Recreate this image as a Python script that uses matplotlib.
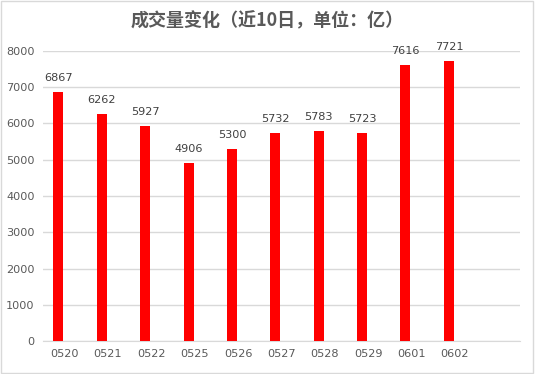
import matplotlib.pyplot as plt
from matplotlib.patches import Rectangle

# Data
dates = ['0520', '0521', '0522', '0525', '0526', '0527', '0528', '0529', '0601', '0602', '']
volume = [6867, 6262, 5927, 4906, 5300, 5732, 5783, 5723, 7616, 7721]
yticks = [0, 1000, 2000, 3000, 4000, 5000, 6000, 7000, 8000]

plt.rcParams['font.family'] = ['Noto Sans CJK SC', 'DejaVu Sans']

fig = plt.figure(figsize=(5.35, 3.74), dpi=100)
ax = fig.add_axes([0.080, 0.088, 0.892, 0.776])

# bars sit left of the category centre (Excel clustered layout)
xs = [i - 0.14 for i in range(len(volume))]
ax.bar(xs, volume, width=0.23, color='#ff0000', zorder=3)
for x, v in zip(xs, volume):
    ax.text(x, v + 250, str(v), ha='center', va='bottom', fontsize=8.1,
            color='#404040', family='DejaVu Sans')

ax.set_xlim(-0.5, len(dates) - 0.5)
ax.set_ylim(0, 8000)
ax.set_xticks(range(len(dates)))
ax.set_xticklabels(dates, family='DejaVu Sans')
ax.set_yticks(yticks)
ax.set_yticklabels([str(t) for t in yticks], family='DejaVu Sans')
ax.tick_params(length=0, labelsize=8.1, labelcolor='#595959', pad=6)
ax.grid(axis='y', color='#d9d9d9', linewidth=1, zorder=0)
for s in ['top', 'right', 'left']:
    ax.spines[s].set_visible(False)
ax.spines['bottom'].set_color('#d9d9d9')

fig.text(0.5, 0.945, '成交量变化（近10日，单位：亿）', ha='center', va='center',
         fontsize=13, fontweight='bold', color='#595959')

# chart border
fig.patches.append(Rectangle((0.002, 0.003), 0.995, 0.993, transform=fig.transFigure,
                             fill=False, edgecolor='#d9d9d9', linewidth=1))

fig.savefig('out.png', dpi=100)
